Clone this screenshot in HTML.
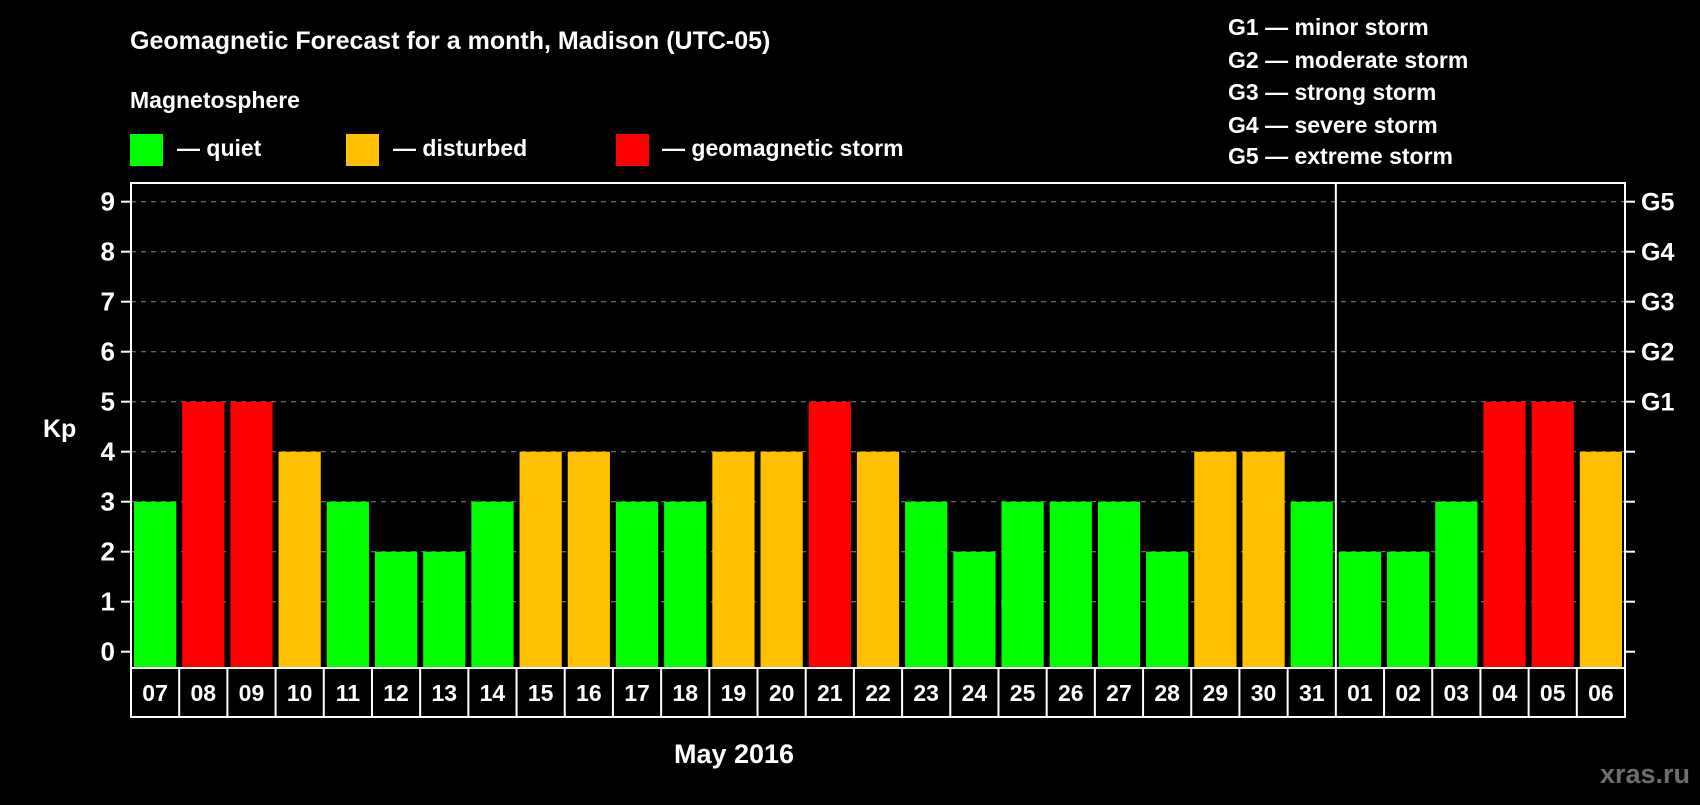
<!DOCTYPE html>
<html><head><meta charset="utf-8"><style>
body{margin:0;background:#000;width:1700px;height:800px;overflow:hidden;font-family:"Liberation Sans",Arial,sans-serif;font-weight:bold;color:#fff}
svg text{font-family:"Liberation Sans",Arial,sans-serif;font-weight:bold;fill:#fff}
</style></head><body>
<svg id="chart" width="1700" height="800">
<text x="130" y="49" font-size="25">Geomagnetic Forecast for a month, Madison (UTC-05)</text>
<text x="130" y="108" font-size="23">Magnetosphere</text>
<g><rect x="130" y="134" width="33" height="32" fill="#00ff00"/><text x="177" y="156" font-size="23">— quiet</text></g>
<g><rect x="346" y="134" width="33" height="32" fill="#ffc000"/><text x="393" y="156" font-size="23">— disturbed</text></g>
<g><rect x="616" y="134" width="33" height="32" fill="#ff0000"/><text x="662" y="156" font-size="23">— geomagnetic storm</text></g>
<g font-size="23">
<text x="1228" y="35">G1 — minor storm</text>
<text x="1228" y="68">G2 — moderate storm</text>
<text x="1228" y="100">G3 — strong storm</text>
<text x="1228" y="133">G4 — severe storm</text>
<text x="1228" y="164">G5 — extreme storm</text>
</g>
<text x="43" y="437" font-size="25">Kp</text>
<text x="734" y="763" font-size="27" text-anchor="middle">May 2016</text>
<text x="1690" y="783" font-size="27" text-anchor="end" style="fill:#6e6e6e">xras.ru</text>
<g id="grid"></g><g id="bars"></g><g id="labels"></g>
<rect x="131" y="183" width="1494" height="485" fill="none" stroke="#fff" stroke-width="2"/>
</svg>
<script>
const days=["07","08","09","10","11","12","13","14","15","16","17","18","19","20","21","22","23","24","25","26","27","28","29","30","31","01","02","03","04","05","06"];
const kp=[3,5,5,4,3,2,2,3,4,4,3,3,4,4,5,4,3,2,3,3,3,2,4,4,3,2,2,3,5,5,4];
const yTicks=[0,1,2,3,4,5,6,7,8,9];
const gLabels=["G1","G2","G3","G4","G5"];
const L=131,R=1625,B=668,Y0=651.7,U=50,N=days.length,W=(R-L)/N;
const y=v=>Y0-v*U, x=i=>L+i*W;
const NS="http://www.w3.org/2000/svg";
function mk(t,a,p){const e=document.createElementNS(NS,t);for(const k in a)e.setAttribute(k,a[k]);p.appendChild(e);return e;}
const grid=document.getElementById('grid'),bars=document.getElementById('bars'),labels=document.getElementById('labels');
yTicks.forEach(v=>{
  if(v>0){const g=mk('line',{x1:L,x2:R,y1:y(v),y2:y(v),stroke:'#888','stroke-dasharray':'5,5','stroke-width':1},grid);
  
  }
  mk('line',{x1:L-10,x2:L,y1:y(v),y2:y(v),stroke:'#fff','stroke-width':2},grid);
  mk('line',{x1:R,x2:R+10,y1:y(v),y2:y(v),stroke:'#fff','stroke-width':2},grid);
  const t=mk('text',{x:115,y:y(v)+9,'font-size':26,'text-anchor':'end'},grid);t.textContent=v;
  
  
});
gLabels.forEach((g,i)=>{const t=mk('text',{x:1641,y:y(5+i)+9,'font-size':25},grid);t.textContent=g;
  
  });
const col=v=>v>=5?'#ff0000':v>=4?'#ffc000':'#00ff00';
kp.forEach((v,i)=>{
  const r=mk('rect',{x:x(i)+3,y:y(v),width:W-6,height:B-y(v),fill:col(v)},bars);
  
  
});
const div=days.indexOf("01");
const dl=mk('line',{x1:x(div),x2:x(div),y1:183,y2:668,stroke:'#fff','stroke-width':2},grid);


mk('rect',{x:L,y:B,width:R-L,height:49,fill:'none',stroke:'#fff','stroke-width':2},labels);
days.forEach((d,i)=>{
  if(i>0)mk('line',{x1:x(i),x2:x(i),y1:B,y2:B+49,stroke:'#fff','stroke-width':2},labels);
  const t=mk('text',{x:x(i)+W/2,y:B+33,'font-size':23,'text-anchor':'middle'},labels);t.textContent=d;
  
  
});
</script>
</body></html>
